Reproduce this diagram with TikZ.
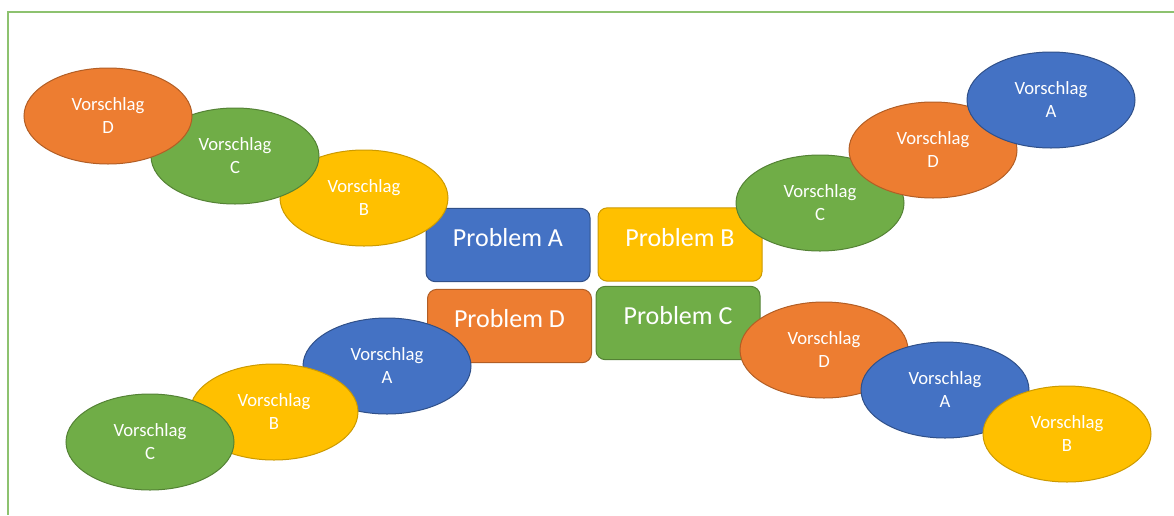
\documentclass[tikz,border=0pt]{standalone}
\usepackage{fontspec}
\setmainfont{Carlito}
\usepackage{tikz}
\usetikzlibrary{shapes.geometric}

\definecolor{officeblue}{HTML}{4472C4}
\definecolor{officeorange}{HTML}{ED7D31}
\definecolor{officegreen}{HTML}{70AD47}
\definecolor{officeyellow}{HTML}{FFC000}
\definecolor{framegreen}{HTML}{8DC26F}

\tikzset{
	problem/.style={shape=rectangle,rounded corners=7pt,minimum width=123pt,minimum height=55pt,inner sep=0pt,line width=0.75pt,text=white,text depth=11pt,font=\fontsize{19.5}{23}\selectfont},
	vorschlag/.style={shape=ellipse,minimum width=126pt,minimum height=72pt,inner sep=0pt,line width=0.75pt,align=center,text=white,font=\fontsize{14}{17.25}\selectfont},
	cblue/.style={fill=officeblue,draw=officeblue!70!black},
	corange/.style={fill=officeorange,draw=officeorange!75!black},
	cgreen/.style={fill=officegreen,draw=officegreen!75!black},
	cyellow/.style={fill=officeyellow,draw=officeyellow!80!black}
}

\begin{document}
\begin{tikzpicture}[x=0.75pt,y=-0.75pt]
	\useasboundingbox (0,0) rectangle (1174,515);
	\draw[framegreen,line width=0.9pt] (1174,12) -- (8,12) -- (8,515);

	\node[problem,cblue]   (pA) at (508, 245)   {Problem A};
	\node[problem,cyellow] (pB) at (680, 244.5) {Problem B};
	\node[problem,cgreen]  (pC) at (678, 323)   {Problem C};
	\node[problem,corange] (pD) at (509.5, 326) {Problem D};

	\node[vorschlag,cyellow] (olb) at (364, 198)  {Vorschlag\\B};
	\node[vorschlag,cgreen]  (olc) at (235, 156)  {Vorschlag\\C};
	\node[vorschlag,corange] (old) at (108, 116)  {Vorschlag\\D};

	\node[vorschlag,cgreen]  (orc) at (820, 203)  {Vorschlag\\C};
	\node[vorschlag,corange] (ord) at (933, 150)  {Vorschlag\\D};
	\node[vorschlag,cblue]   (ora) at (1051, 100) {Vorschlag\\A};

	\node[vorschlag,cblue]   (ula) at (387, 366)  {Vorschlag\\A};
	\node[vorschlag,cyellow] (ulb) at (274, 412)  {Vorschlag\\B};
	\node[vorschlag,cgreen]  (ulc) at (150, 442)  {Vorschlag\\C};

	\node[vorschlag,corange] (urd) at (824, 350)  {Vorschlag\\D};
	\node[vorschlag,cblue]   (ura) at (945, 390)  {Vorschlag\\A};
	\node[vorschlag,cyellow] (urb) at (1067, 434) {Vorschlag\\B};
\end{tikzpicture}
\end{document}
